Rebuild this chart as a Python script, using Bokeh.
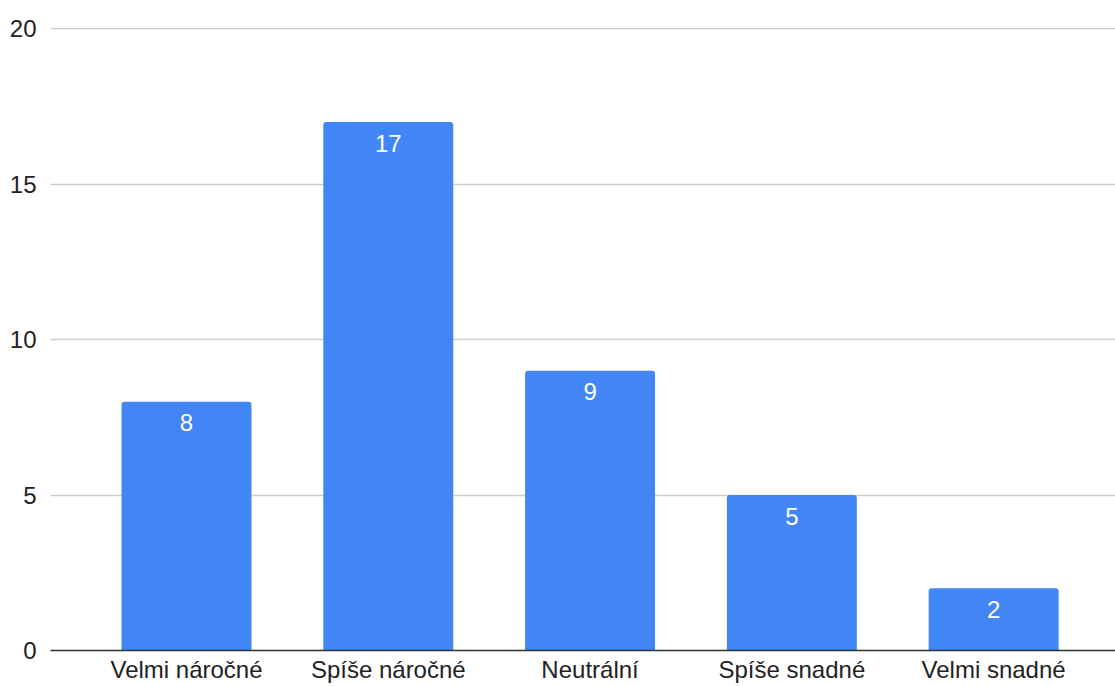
from bokeh.plotting import figure
from bokeh.models import ColumnDataSource, FixedTicker
from bokeh.core.properties import value
from bokeh.embed import file_html
from bokeh.resources import INLINE

categories = ["Velmi náročné", "Spíše náročné", "Neutrální", "Spíše snadné", "Velmi snadné"]
counts = [8, 17, 9, 5, 2]
y_ticks = [0, 5, 10, 15, 20]

BAR_COLOR = "#4285f4"
FONT = "Liberation Sans"
FONT_SIZE = "24px"

positions = list(range(len(categories)))
source = ColumnDataSource(dict(
    x=positions,
    top=counts,
    label=[str(c) for c in counts],
))

p = figure(
    width=1115, height=686,
    x_range=(-0.674, 4.604), y_range=(0, 20.04),
    output_backend="svg", toolbar_location=None,
    min_border_left=50, min_border_right=0,
    min_border_top=27, min_border_bottom=36,
)
p.outline_line_color = None
p.background_fill_color = "white"
p.border_fill_color = "white"

p.vbar(x="x", top="top", width=0.644, bottom=0, source=source,
       fill_color=BAR_COLOR, line_color=None,
       border_radius=(3, 3, 0, 0))

p.text(x="x", y="top", text="label", source=source,
       text_color="white", text_font=value(FONT), text_font_size=FONT_SIZE,
       text_align="center", text_baseline="middle", y_offset=21)

# y axis: labels only, grey gridlines
p.yaxis.ticker = FixedTicker(ticks=y_ticks)
p.yaxis.axis_line_color = None
p.yaxis.major_tick_line_color = None
p.yaxis.minor_tick_line_color = None
p.yaxis.major_tick_out = 0
p.yaxis.minor_tick_out = 0
p.yaxis.major_label_standoff = 14
p.yaxis.major_label_text_font = FONT
p.yaxis.major_label_text_font_size = FONT_SIZE
p.yaxis.major_label_text_color = "#222222"
p.ygrid.grid_line_color = "#cccccc"
p.ygrid.grid_line_width = 1.5
p.xgrid.grid_line_color = None

# x axis: dark baseline with category names
p.xaxis.ticker = FixedTicker(ticks=positions)
p.xaxis.major_label_overrides = {i: c for i, c in enumerate(categories)}
p.xaxis.axis_line_color = "#333333"
p.xaxis.axis_line_width = 1.5
p.xaxis.major_tick_line_color = None
p.xaxis.minor_tick_line_color = None
p.xaxis.major_tick_out = 0
p.xaxis.minor_tick_out = 0
p.xaxis.major_label_standoff = 5
p.xaxis.major_label_text_font = FONT
p.xaxis.major_label_text_font_size = FONT_SIZE
p.xaxis.major_label_text_color = "#222222"

open("out.html", "w").write(file_html(p, INLINE))
